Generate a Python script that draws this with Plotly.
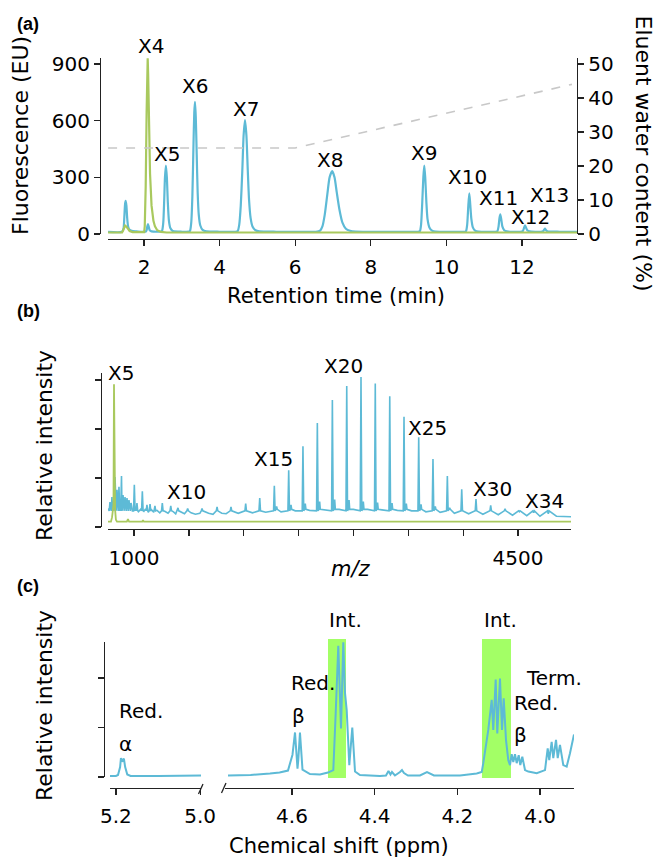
import plotly.graph_objects as go

# ---------------- Panel (a): fluorescence chromatogram ----------------
a_blue_t = [1.05, 1.42, 1.46, 1.48, 1.50, 1.516, 1.535, 1.555, 1.58, 1.62, 1.70, 1.80, 1.95, 2.05,
            2.07, 2.09, 2.106, 2.125, 2.15, 2.20, 2.35, 2.46,
            2.48, 2.51, 2.535, 2.555, 2.58, 2.605, 2.63, 2.66, 2.70, 2.76, 3.0, 3.20,
            3.22, 3.25, 3.28, 3.31, 3.33, 3.349, 3.37, 3.395, 3.42, 3.45, 3.49, 3.55, 3.65, 4.0, 4.42,
            4.48, 4.52, 4.56, 4.60, 4.635, 4.672, 4.71, 4.745, 4.78, 4.82, 4.87, 4.95, 5.05, 5.5, 6.0, 6.55,
            6.66, 6.72, 6.78, 6.85, 6.91, 6.98, 7.04, 7.10, 7.17, 7.25, 7.34, 7.45, 7.6, 8.5, 9.25,
            9.30, 9.33, 9.36, 9.39, 9.415, 9.44, 9.47, 9.50, 9.55, 9.62, 9.72, 10.2, 10.50,
            10.52, 10.55, 10.58, 10.606, 10.63, 10.66, 10.70, 10.76, 10.85, 11.3,
            11.35, 11.38, 11.405, 11.426, 11.45, 11.48, 11.53, 11.6, 11.95,
            12.02, 12.05, 12.079, 12.105, 12.14, 12.2, 12.5,
            12.56, 12.59, 12.608, 12.63, 12.67, 13.0, 13.455]
a_blue_v = [11, 12, 30, 90, 160, 175, 150, 85, 40, 22, 15, 14, 12, 13,
            20, 42, 52, 40, 20, 14, 12, 13,
            18, 60, 180, 300, 362, 300, 170, 70, 30, 16, 12, 13,
            18, 60, 200, 480, 640, 699, 620, 420, 220, 100, 45, 22, 14, 12, 12,
            16, 50, 150, 330, 520, 603, 520, 340, 180, 85, 40, 20, 14, 12, 12, 12,
            18, 40, 100, 210, 300, 333, 300, 220, 130, 60, 28, 17, 13, 12, 12,
            16, 50, 160, 300, 362, 300, 170, 80, 35, 18, 13, 12, 12,
            16, 50, 150, 215, 160, 80, 35, 18, 13, 12,
            15, 40, 85, 104, 80, 40, 20, 14, 12,
            15, 30, 46, 35, 20, 14, 12,
            15, 24, 28, 22, 15, 12, 11]
a_green_t = [1.05, 1.42, 1.45, 1.48, 1.50, 1.53, 1.57, 1.62, 1.70, 1.90, 2.005,
             2.02, 2.045, 2.07, 2.09, 2.098, 2.11, 2.13, 2.16, 2.20, 2.25, 2.29, 2.35, 2.45, 2.60, 13.455]
a_green_v = [8, 8, 20, 38, 45, 40, 28, 16, 10, 8, 10,
             40, 250, 650, 920, 930, 850, 600, 320, 150, 70, 40, 20, 11, 8, 8]
a_grad_t = [1.05, 6.0, 13.32]
a_grad_v = [25.3, 25.3, 44.0]
a_labels = ["X4", "X5", "X6", "X7", "X8", "X9", "X10", "X11", "X12", "X13"]
a_label_t = [2.18, 2.60, 3.36, 4.70, 6.93, 9.41, 10.56, 11.37, 12.22, 12.72]
a_label_v = [996, 422, 786, 663, 392, 427, 303, 189, 92, 205]
a_left_ticks = [0, 300, 600, 900]
a_right_ticks = [0, 10, 20, 30, 40, 50]
a_x_ticks = [2, 4, 6, 8, 10, 12]

# ---------------- Panel (b): mass spectrum ----------------
b_peak_mz = [781, 799, 827, 845, 863, 886, 900, 918, 936, 954, 973, 1003, 1027, 1076, 1118, 1146,
             1191, 1258, 1335, 1401, 1489, 1620, 1757, 1884, 2018, 2146, 2279, 2410, 2540, 2671,
             2808, 2939, 3069, 3199, 3331, 3461, 3595, 3725, 3856, 3987, 4117, 4251, 4382, 4512,
             4643, 4776]
b_peak_v = [0.51, 0.61, 1.02, 0.76, 0.82, 1.04, 0.65, 0.61, 0.59, 0.55, 0.49, 0.86, 0.49, 0.73, 0.45, 0.47,
            0.43, 0.49, 0.43, 0.39, 0.38, 0.38, 0.41, 0.41, 0.48, 0.59, 0.84, 1.16, 1.65, 2.12,
            2.59, 2.88, 3.06, 2.93, 2.67, 2.25, 1.83, 1.39, 1.04, 0.77, 0.57, 0.44, 0.37, 0.31,
            0.29, 0.27]
b_side_mz = [2300, 2431, 2561, 2692, 2829, 2960, 3090, 3220, 3352, 3482, 3616, 3746, 3877]
b_side_v = [0.42, 0.45, 0.48, 0.52, 0.56, 0.55, 0.52, 0.50, 0.49, 0.48, 0.46, 0.42, 0.39]
b_base_mz = [763, 772, 790, 808, 818, 836, 854, 872, 890, 910, 927, 945, 963, 985, 1015, 1040, 1060,
             1090, 1105, 1130, 1160, 1180, 1210, 1235, 1280, 1310, 1360, 1380, 1430, 1460, 1520, 1560,
             1600, 1680, 1720, 1800, 1840, 1950, 2080, 2200, 2340, 2470, 2600, 2740, 2870, 3000, 3130,
             3260, 3400, 3530, 3660, 3790, 3920, 4050, 4180, 4320, 4450, 4580, 4700, 4850, 4983]
b_base_v = [0.38, 0.33, 0.42, 0.36, 0.45, 0.40, 0.47, 0.38, 0.44, 0.37, 0.42, 0.35, 0.40, 0.33, 0.36,
            0.31, 0.36, 0.32, 0.37, 0.30, 0.35, 0.30, 0.34, 0.29, 0.32, 0.28, 0.31, 0.27, 0.30, 0.27,
            0.29, 0.26, 0.28, 0.28, 0.26, 0.28, 0.27, 0.28, 0.29, 0.30, 0.31, 0.33, 0.34, 0.35, 0.36,
            0.36, 0.36, 0.35, 0.34, 0.33, 0.31, 0.30, 0.28, 0.27, 0.26, 0.25, 0.24, 0.23, 0.22, 0.22, 0.21]
b_green_mz = [763, 790, 800, 808, 813, 817.7, 822, 828, 835, 845, 935, 945, 955, 1075, 1082, 1090, 4983]
b_green_v = [0.108, 0.108, 0.2, 0.38, 0.45, 2.912, 0.45, 0.35, 0.15, 0.11, 0.11, 0.16, 0.11, 0.11, 0.14, 0.11, 0.108]
b_labels = ["X5", "X10", "X15", "X20", "X25", "X30", "X34"]
b_label_mz = [877, 1480, 2270, 2908, 3673, 4265, 4742]
b_label_v = [3.147, 0.72, 1.388, 3.29, 2.03, 0.77, 0.53]
b_x_ticks = [1000, 1500, 2000, 2500, 3000, 3500, 4000, 4500]
b_x_ticktext = ["1000", "", "", "", "", "", "", "4500"]
b_y_ticks = [0, 1, 2, 3]

# ---------------- Panel (c): 1H NMR ----------------
c_left_ppm = [5.214, 5.20, 5.195, 5.19, 5.188, 5.1845, 5.181, 5.178, 5.173, 5.165, 5.10, 5.05, 4.998]
c_left_v = [0.02, 0.02, 0.04, 0.2, 0.38, 0.33, 0.37, 0.2, 0.05, 0.02, 0.02, 0.02, 0.03]
c_right_ppm = [4.7548, 4.70, 4.6532, 4.63, 4.6097, 4.5988, 4.5927, 4.5887, 4.5867, 4.5847, 4.5807,
               4.5766, 4.5746, 4.5565, 4.5323, 4.5129, 4.5001, 4.4943, 4.488, 4.4815, 4.4759, 4.4718,
               4.4677, 4.4614, 4.4542, 4.4476, 4.4356, 4.3872, 4.3727, 4.3666, 4.3618, 4.3582, 4.351,
               4.3388, 4.334, 4.3291, 4.3195, 4.2905, 4.2735, 4.2566, 4.1937, 4.1533, 4.1412, 4.1374,
               4.1253, 4.117, 4.1132, 4.1074, 4.1035, 4.097, 4.0921, 4.088, 4.0825, 4.0769, 4.0728,
               4.0687, 4.0648, 4.0607, 4.0566, 4.0517, 4.0479, 4.043, 4.0365, 4.0285, 4.0082, 3.9881,
               3.9816, 3.9778, 3.972, 3.9681, 3.9615, 3.9574, 3.9519, 3.9439, 3.9357, 3.9277, 3.918]
c_right_v = [0.03, 0.04, 0.07, 0.09, 0.13, 0.45, 0.90, 0.35, 0.17, 0.35, 0.90,
             0.40, 0.15, 0.06, 0.05, 0.09, 0.14, 1.29, 2.65, 0.98, 2.72, 1.70,
             1.35, 0.24, 1.00, 0.11, 0.04, 0.02, 0.03, 0.12, 0.05, 0.10, 0.03,
             0.10, 0.14, 0.08, 0.03, 0.03, 0.10, 0.03, 0.03, 0.07, 0.10, 0.28,
             0.95, 1.56, 0.95, 1.97, 0.88, 1.99, 0.95, 1.59, 0.75, 0.34, 0.24,
             0.46, 0.30, 0.46, 0.28, 0.44, 0.24, 0.41, 0.14, 0.11, 0.075, 0.14,
             0.58, 0.34, 0.71, 0.38, 0.75, 0.38, 0.65, 0.24, 0.21, 0.48, 0.86]
c_int_regions = [(4.5129, 4.4694), (4.1405, 4.0704)]
c_left_ticks = [5.2, 5.0]
c_right_ticks = [4.6, 4.4, 4.2, 4.0]
c_y_ticks = [0, 1, 2]

BLUE = "#5dbad6"
GREEN = "#a9c95e"
HILITE = "#a3ff66"
AXC = "#222222"
GRAD = "#c8c8c8"
FONT = "DejaVu Sans"
W, H = 656, 860


def px(x):
    return x / W


def py(y):
    return 1 - y / H


fig = go.Figure()

# panel a
fig.add_trace(go.Scatter(x=a_grad_t, y=a_grad_v, xaxis="x", yaxis="y2", mode="lines",
                         line=dict(color=GRAD, width=1.6, dash="dash"), hoverinfo="skip"))
fig.add_trace(go.Scatter(x=a_blue_t, y=a_blue_v, xaxis="x", yaxis="y", mode="lines",
                         line=dict(color=BLUE, width=2.2, shape="spline", smoothing=0.6)))
fig.add_trace(go.Scatter(x=a_green_t, y=a_green_v, xaxis="x", yaxis="y", mode="lines",
                         line=dict(color=GREEN, width=2.2)))

# panel b: stick spectrum from read baseline samples + read peaks
pts = list(zip(b_base_mz, b_base_v))
for m, v in zip(b_peak_mz, b_peak_v):
    pts += [(m - 7, 0.33), (m, v), (m + 7, 0.33)]
for m, v in zip(b_side_mz, b_side_v):
    pts += [(m - 6, 0.36), (m, v), (m + 6, 0.36)]
pts.sort()
fig.add_trace(go.Scatter(x=[p[0] for p in pts], y=[p[1] for p in pts], xaxis="x2", yaxis="y3",
                         mode="lines", line=dict(color=BLUE, width=1.6)))
fig.add_trace(go.Scatter(x=b_green_mz, y=b_green_v, xaxis="x2", yaxis="y3", mode="lines",
                         line=dict(color=GREEN, width=1.8)))

# panel c
fig.add_trace(go.Scatter(x=c_left_ppm, y=c_left_v, xaxis="x3", yaxis="y4", mode="lines",
                         line=dict(color=BLUE, width=2)))
fig.add_trace(go.Scatter(x=c_right_ppm, y=c_right_v, xaxis="x4", yaxis="y5", mode="lines",
                         line=dict(color=BLUE, width=2)))

axis_common = dict(showline=True, linecolor=AXC, linewidth=1.3, ticks="outside", ticklen=6,
                   tickwidth=1.3, tickcolor=AXC, showgrid=False, zeroline=False, automargin=False,
                   tickfont=dict(family=FONT, size=20, color="black"), fixedrange=True)

fig.update_layout(
    template="none",
    width=W, height=H, margin=dict(l=0, r=0, t=0, b=0, pad=0), autosize=False,
    paper_bgcolor="white", plot_bgcolor="white", showlegend=False,
    font=dict(family=FONT, size=20, color="black"),
    xaxis=dict(**axis_common, domain=[px(108), px(577)], range=[1.048, 13.455], anchor="free",
               position=py(239), tickvals=a_x_ticks, ticklabelstandoff=4),
    yaxis=dict(**axis_common, domain=[py(234), py(58)], range=[0, 931.8], anchor="free",
               position=px(100), tickvals=a_left_ticks),
    yaxis2=dict(**axis_common, overlaying="y", side="right", range=[0, 51.76], anchor="free",
                position=px(577), tickvals=a_right_ticks),
    xaxis2=dict(**axis_common, domain=[px(108), px(571)], range=[763, 4983], anchor="free",
                position=py(529), tickvals=b_x_ticks, ticktext=b_x_ticktext, ticklabelstandoff=5),
    yaxis3=dict(**axis_common, domain=[py(527), py(373)], range=[0, 3.143], anchor="free",
                position=px(101), tickvals=b_y_ticks, showticklabels=False),
    xaxis3=dict(**axis_common, domain=[px(110), px(201)], range=[5.214, 4.998], anchor="free",
                position=py(788), tickvals=c_left_ticks, ticktext=["%.1f" % t for t in c_left_ticks],
                ticklabelstandoff=4),
    xaxis4=dict(**axis_common, domain=[px(225), px(574)], range=[4.762, 3.918], anchor="free",
                position=py(788), tickvals=c_right_ticks, ticktext=["%.1f" % t for t in c_right_ticks],
                ticklabelstandoff=4),
    yaxis4=dict(**axis_common, domain=[py(777), py(642)], range=[0, 2.727], anchor="free",
                position=px(104), tickvals=c_y_ticks, showticklabels=False),
    yaxis5=dict(domain=[py(777), py(642)], range=[0, 2.727], anchor="x4", visible=False,
                fixedrange=True, automargin=False),
)

shapes = []
for x0, x1 in c_int_regions:
    shapes.append(dict(type="rect", xref="x4", yref="paper", x0=x0, x1=x1, y0=py(778), y1=py(639),
                       fillcolor=HILITE, line=dict(width=0), layer="below"))
# axis break marks
for (x0, y0, x1, y1) in [(198.5, 794, 203, 784), (221.5, 793, 226, 783)]:
    shapes.append(dict(type="line", xref="paper", yref="paper", x0=px(x0), y0=py(y0), x1=px(x1),
                       y1=py(y1), line=dict(color=AXC, width=1.3)))
fig.update_layout(shapes=shapes)

ann = []


def lab(text, x, y, xref, yref, size=20, **kw):
    d = dict(text=text, x=x, y=y, xref=xref, yref=yref, showarrow=False,
             font=dict(family=FONT, size=size, color="black"), xanchor="center", yanchor="middle")
    d.update(kw)
    ann.append(d)


# peak labels; anchor inside the axis range and shift up (pixels) when above it
a_top, b_top = 900.0, 3.0
for t, xv, yv in zip(a_labels, a_label_t, a_label_v):
    if yv > a_top:
        lab(t, xv, a_top, "x", "y", yshift=(yv - a_top) * (170 / 900))
    else:
        lab(t, xv, yv, "x", "y")
for t, xv, yv in zip(b_labels, b_label_mz, b_label_v):
    if yv > b_top:
        lab(t, xv, b_top, "x2", "y3", yshift=(yv - b_top) * 49)
    else:
        lab(t, xv, yv, "x2", "y3")

# panel c peak labels
lab("Red.", 5.198, 1.33, "x3", "y4", xanchor="left")
lab("α", 5.198, 0.67, "x3", "y4", xanchor="left")
lab("Red.", 4.6065, 1.90, "x4", "y5", xanchor="left")
lab("β", 4.6048, 1.23, "x4", "y5", xanchor="left")
lab("Int.", 4.4718, 2.6, "x4", "y5", yshift=28)
lab("Int.", 4.0958, 2.6, "x4", "y5", yshift=28)
lab("Term.", 3.9652, 2.0, "x4", "y5")
lab("Red.", 4.0687, 1.49, "x4", "y5", xanchor="left")
lab("β", 4.0687, 0.85, "x4", "y5", xanchor="left")

# axis titles
lab("Fluorescence (EU)", px(21), py(136), "paper", "paper", size=22, textangle=-90)
lab("Eluent water content (%)", px(643), py(153.5), "paper", "paper", size=22, textangle=90)
lab("Retention time (min)", px(336), py(296), "paper", "paper", size=21)
lab("Relative intensity", px(44), py(446), "paper", "paper", size=22, textangle=-90)
lab("<i>m/z</i>", px(351), py(569), "paper", "paper", size=21)
lab("Relative intensity", px(44), py(706), "paper", "paper", size=22, textangle=-90)
lab("Chemical shift (ppm)", px(339), py(846), "paper", "paper", size=21)

# panel letters
for letter, yy in [("(a)", 24), ("(b)", 311), ("(c)", 586)]:
    ann.append(dict(text="<b>%s</b>" % letter, x=px(28), y=py(yy), xref="paper", yref="paper",
                    showarrow=False, font=dict(family="Liberation Sans", size=18, color="black"),
                    xanchor="center", yanchor="middle"))

fig.update_layout(annotations=ann)
# remove the default page margin so the 656x860 figure fills the window exactly
fig.write_html("out.html", config={"displayModeBar": False, "staticPlot": True},
               post_script="document.body.style.margin='0';document.body.style.overflow='hidden';")
